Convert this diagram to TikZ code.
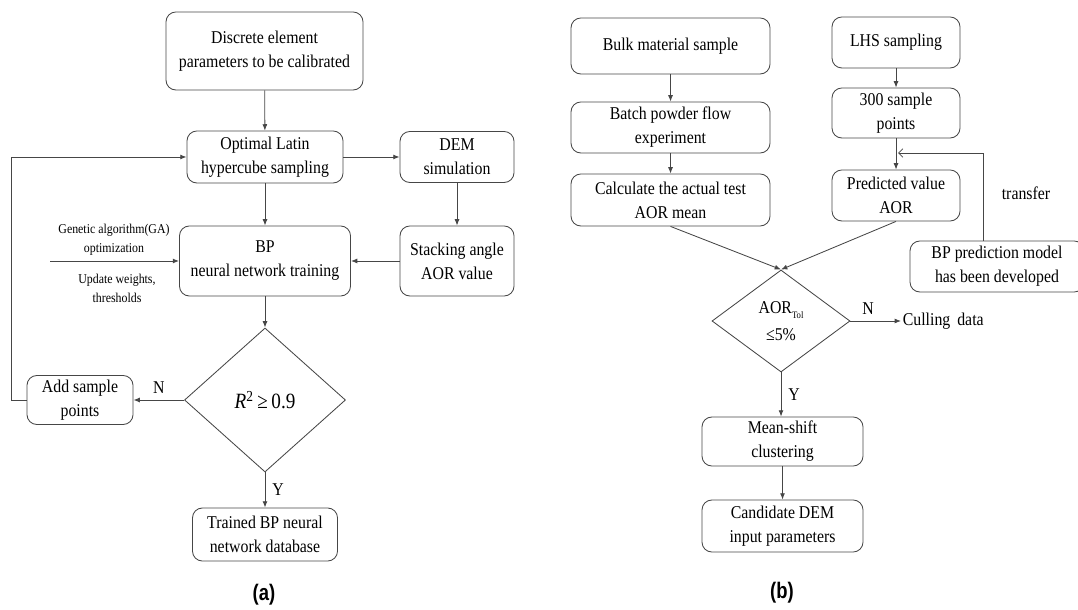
\documentclass[tikz,border=0pt]{standalone}
\usepackage{fontspec}
\setmainfont{Liberation Serif}[FakeStretch=0.88]
\newfontfamily\lblfont[FakeStretch=0.82]{Liberation Sans}
\usetikzlibrary{arrows.meta,positioning,shapes.geometric}
\definecolor{lineGray}{RGB}{70,70,70}
\tikzset{
  box/.style={draw=lineGray, rounded corners=7pt, align=center, inner sep=1pt,
    font=\fontsize{12.8}{17}\selectfont},
  decision/.style={draw=lineGray, diamond, inner sep=0pt, align=center},
  arr/.style={draw=lineGray, -{Latex[length=4.5pt,width=3.5pt]}},
  tarr/.style={draw=lineGray, -{Straight Barb[length=3pt,width=6pt]}},
  lbl/.style={font=\fontsize{12.8}{17}\selectfont, inner sep=1pt},
  small/.style={font=\fontsize{9.6}{13.5}\selectfont, align=center, inner sep=0pt},
}

\begin{document}
\begin{tikzpicture}[x=0.25mm, y=-0.25mm, line width=0.6pt]
    \useasboundingbox (0,0) rectangle (1078,610);
    % (a) surrogate model training
    \node[box, minimum width=49.25mm, minimum height=19.5mm] (disc) at (264.5,51)
      {Discrete element\\parameters to be calibrated};
    \node[box, minimum width=39mm, minimum height=13mm] (olhs) at (265,157)
      {Optimal Latin\\hypercube sampling};
    \node[box, minimum width=28.5mm, minimum height=12.75mm] (dem) at (457,157)
      {DEM\\simulation};
    \node[box, minimum width=42.75mm, minimum height=17.5mm] (bp) at (265,261)
      {BP\\neural network training};
    \node[box, minimum width=28.5mm, minimum height=17.5mm] (stack) at (457,261)
      {Stacking angle\\AOR value};
    \node[decision, minimum width=40.25mm, minimum height=36mm,
      font=\fontsize{15.5}{17}\selectfont] (dia) at (265,400)
      {\textit{R}\textsuperscript{2}\,≥\,0.9};
    \node[box, minimum width=26.5mm, minimum height=12.25mm] (addp) at (80,400)
      {Add sample\\points};
    \node[box, minimum width=36.25mm, minimum height=13.25mm] (trained) at (265,534.5)
      {Trained BP neural\\network database};
    \coordinate (gain) at (50,261);
    \node[small] (ga) at (114,240) {Genetic algorithm(GA)\\optimization};
    \node[small] (upd) at (117,288) {Update weights,\\thresholds};
    \draw[arr] (disc) -- (olhs);
    \draw[arr] (olhs) -- (dem);
    \draw[arr] (olhs) -- (bp);
    \draw[arr] (dem) -- (stack);
    \draw[arr] (stack) -- (bp);
    \draw[arr] (gain) -- (bp.west);
    \draw[arr] (bp) -- (dia);
    \draw[arr] (dia.west) -- (addp.east) node[lbl, midway, above=3pt] {N};
    \draw[arr] (addp.west) -- ++(-15,0) |- (olhs.west);
    \draw[arr] (dia.south) -- (trained.north) node[lbl, midway, right=4pt] {Y};
    \node[font=\lblfont\fontsize{16}{18}\selectfont\bfseries] (capa) at (264,595) {(a)};

    % (b) calibration with the trained model
    \node[box, minimum width=49.75mm, minimum height=14mm] (bulk) at (670.5,46)
      {Bulk material sample};
    \node[box, minimum width=49.75mm, minimum height=12.75mm] (batch) at (670.5,127.5)
      {Batch powder flow\\experiment};
    \node[box, minimum width=49.75mm, minimum height=13mm] (calc) at (670.5,200)
      {Calculate the actual test\\AOR mean};
    \node[box, minimum width=32mm, minimum height=12.75mm] (lhs) at (896,42.5)
      {LHS sampling};
    \node[box, minimum width=32mm, minimum height=12.5mm] (pts) at (896,113)
      {300 sample\\points};
    \node[box, minimum width=32mm, minimum height=12.75mm] (pred) at (896,195.5)
      {Predicted value\\AOR};
    \node[box, minimum width=43.5mm, minimum height=12.75mm] (bpm) at (997,266.5)
      {BP prediction model\\has been developed};
    \node[decision, minimum width=34.5mm, minimum height=25.5mm,
      font=\fontsize{12.8}{19}\selectfont] (tol) at (781,321)
      {AOR\raisebox{-0.6ex}{\fontsize{7}{7}\selectfont Tol}\\≤5\%};
    \node[lbl, anchor=west] (cull) at (901,321) {Culling\, data};
    \node[box, minimum width=40.25mm, minimum height=12.25mm] (mean) at (782.5,441.5)
      {Mean-shift\\clustering};
    \node[box, minimum width=40.25mm, minimum height=13mm] (cand) at (782.5,526)
      {Candidate DEM\\input parameters};
    \coordinate (trup) at (983,153);
    \coordinate (tip) at (898,153);
    \node[lbl] (trlbl) at (1026,193) {transfer};
    \draw[arr] (bulk) -- (batch);
    \draw[arr] (batch) -- (calc);
    \draw[arr] (lhs) -- (pts);
    \draw[arr] (pts) -- (pred);
    \draw[arr] (calc.south) -- (tol.north);
    \draw[arr] (pred.south) -- (tol.north);
    \draw[tarr] (trup |- bpm.north) -- (trup) -- (tip);
    \draw[arr] (tol.east) -- (cull.west) node[lbl, pos=0.35, above=3pt] {N};
    \draw[arr] (tol.south) -- (tol.south |- mean.north) node[lbl, midway, right=4pt] {Y};
    \draw[arr] (mean.south) -- (mean.south |- cand.north);
    \node[font=\lblfont\fontsize{16}{18}\selectfont\bfseries] (capb) at (782,593) {(b)};
\end{tikzpicture}
\end{document}
